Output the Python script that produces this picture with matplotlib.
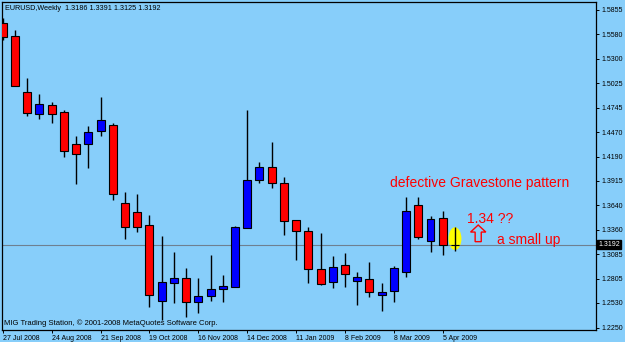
# EURUSD weekly candlesticks, MT4 style
import numpy as np
import matplotlib.pyplot as plt
from matplotlib.patches import Ellipse, FancyArrow

plt.rcParams['font.family'] = ['Liberation Sans', 'DejaVu Sans']

# weekly OHLC, 27 Jul 2008 .. 12 Apr 2009
opens = [1.5704, 1.5560, 1.4921, 1.4675, 1.4777, 1.4694, 1.4331, 1.4338, 1.4482, 1.4550,
         1.3661, 1.3566, 1.3419, 1.2553, 1.2760, 1.2810, 1.2538, 1.2606, 1.2689, 1.2715,
         1.3385, 1.3926, 1.4070, 1.3888, 1.3472, 1.3351, 1.2916, 1.2768, 1.2961, 1.2776,
         1.2802, 1.2621, 1.2663, 1.2882, 1.3639, 1.3230, 1.3495, 1.3186]
highs = [1.5761, 1.5628, 1.5080, 1.4902, 1.4814, 1.4720, 1.4425, 1.4539, 1.4868, 1.4569,
         1.3786, 1.3767, 1.3529, 1.3294, 1.3109, 1.2927, 1.2814, 1.3075, 1.2848, 1.3407,
         1.4720, 1.4127, 1.4357, 1.3957, 1.3475, 1.3389, 1.3328, 1.3067, 1.3094, 1.2885,
         1.2992, 1.2754, 1.2953, 1.3730, 1.3730, 1.3517, 1.3578, 1.3391]
lows = [1.5515, 1.4987, 1.4656, 1.4621, 1.4569, 1.4190, 1.3877, 1.4065, 1.4429, 1.3699,
        1.3253, 1.3339, 1.2488, 1.2337, 1.2527, 1.2375, 1.2413, 1.2556, 1.2538, 1.2708,
        1.3378, 1.3895, 1.3832, 1.3302, 1.3018, 1.2754, 1.2735, 1.2697, 1.2715, 1.2507,
        1.2595, 1.2443, 1.2545, 1.2829, 1.3253, 1.3105, 1.3078, 1.3125]
closes = [1.5545, 1.4996, 1.4683, 1.4785, 1.4675, 1.4258, 1.4218, 1.4467, 1.4607, 1.3764,
          1.3396, 1.3396, 1.2621, 1.2765, 1.2814, 1.2538, 1.2606, 1.2689, 1.2720, 1.3393,
          1.3922, 1.4070, 1.3888, 1.3461, 1.3351, 1.2916, 1.2742, 1.2939, 1.2856, 1.2822,
          1.2658, 1.2652, 1.2927, 1.3574, 1.3279, 1.3480, 1.3185, 1.3192]

date_labels = ["27 Jul 2008", "24 Aug 2008", "21 Sep 2008", "19 Oct 2008", "16 Nov 2008",
               "14 Dec 2008", "11 Jan 2009", "8 Feb 2009", "8 Mar 2009", "5 Apr 2009"]
price_ticks = [1.5855, 1.5580, 1.5300, 1.5025, 1.4745, 1.4470, 1.4190, 1.3915, 1.3640,
               1.3360, 1.3085, 1.2805, 1.2530, 1.2250]
last_price = 1.3192

bg = '#87CEFA'
o = np.array(opens)
h = np.array(highs)
l = np.array(lows)
c = np.array(closes)
x = np.arange(len(o))

fig = plt.figure(figsize=(6.25, 3.42), dpi=100, facecolor=bg)
ax = fig.add_axes([0.0032, 0.0365, 0.9504, 0.9562], facecolor=bg)

# yellow highlight behind the current candle
ax.add_patch(Ellipse((37, 1.3260), 1.06, 0.0258, facecolor='#FFFF00', edgecolor='none', zorder=1))

# current price line
ax.axhline(last_price, color='#6E8090', lw=0.8, zorder=1.5)

# wicks and bodies
ax.vlines(x, l, h, color='black', lw=1, zorder=2)
colors = np.where(c >= o, '#0000FF', '#FF0000')
body_h = np.maximum(np.abs(c - o), 0.0004)
ax.bar(x, body_h, bottom=np.minimum(o, c), width=0.65, color=colors,
       edgecolor='black', linewidth=0.8, zorder=3)

ax.set_xlim(-0.065, 48.54)
ax.set_ylim(1.2229, 1.5940)

ax.yaxis.tick_right()
ax.set_yticks(price_ticks)
ax.set_yticklabels([f"{p:.4f}" for p in price_ticks])
ax.set_xticks(x[::4][:len(date_labels)])
ax.set_xticklabels(date_labels)
for lab in ax.get_xticklabels():
    lab.set_ha('left')
ax.tick_params(axis='y', length=2.5, width=0.7, labelsize=5, pad=1.5, colors='black')
ax.tick_params(axis='x', length=2.5, width=0.7, labelsize=5, pad=1.5, colors='black')
for s in ax.spines.values():
    s.set_color('black')
    s.set_linewidth(0.9)

# price tag on axis
ax.text(1.004, last_price, f"{last_price:.4f}", transform=ax.get_yaxis_transform(),
        fontsize=5, color='white', va='center', ha='left',
        bbox=dict(boxstyle='square,pad=0.15', facecolor='black', edgecolor='black'))

ax.text(0.005, 0.983, "EURUSD,Weekly  1.3186 1.3391 1.3125 1.3192", transform=ax.transAxes,
        fontsize=5.2, va='center', ha='left', color='black')
ax.text(0.004, 0.02, "MIG Trading Station, \u00a9 2001-2008 MetaQuotes Software Corp.",
        transform=ax.transAxes, fontsize=5.5, va='center', ha='left', color='black')

# annotations
ax.text(31.7, 1.3892, "defective Gravestone pattern", color='#FF0000', fontsize=10,
        va='center', ha='left')
ax.text(38.0, 1.3483, "1.34 ??", color='#FF0000', fontsize=10, va='center', ha='left')
ax.text(40.4, 1.3245, "a small up", color='#FF0000', fontsize=10, va='center', ha='left')
ax.add_patch(FancyArrow(38.9, 1.3226, 0, 0.0189, width=0.5, head_width=1.25,
                        head_length=0.008, length_includes_head=True,
                        fill=False, edgecolor='#FF0000', linewidth=1, zorder=4))

fig.savefig("out.png", dpi=100, facecolor=bg)
